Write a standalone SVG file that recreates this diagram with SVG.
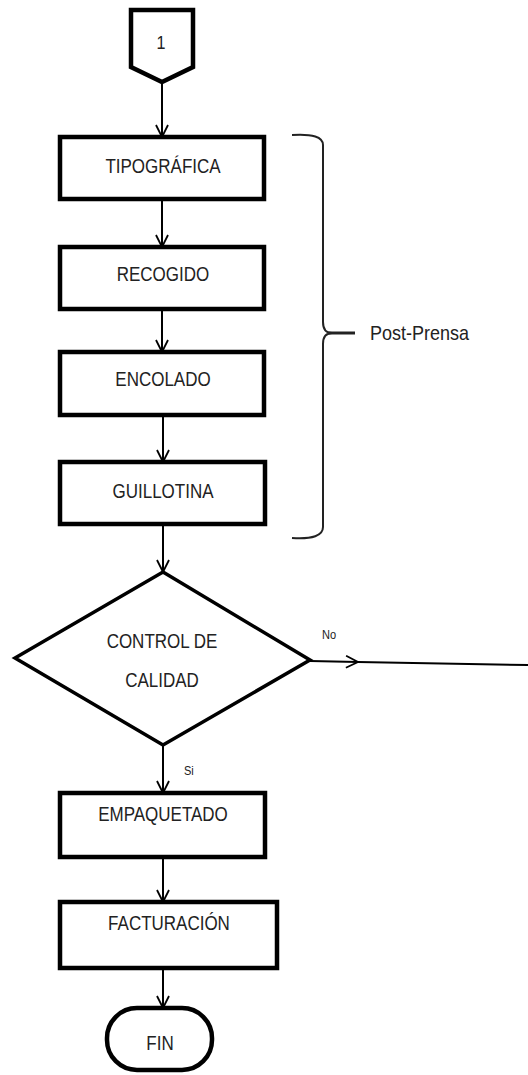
<svg xmlns="http://www.w3.org/2000/svg" width="528" height="1075" viewBox="0 0 528 1075">
  <defs>
    <style>
      .box { fill: #fff; stroke: #000; stroke-width: 4.5; stroke-linejoin: miter; }
      .dia { fill: #fff; stroke: #000; stroke-width: 3.5; stroke-linejoin: miter; }
      .conn { fill: none; stroke: #000; stroke-width: 2; }
      .brace { fill: none; stroke: #222; stroke-width: 2; }
      .lbl { font-family: "Liberation Sans", Arial, sans-serif; font-size: 20px; fill: #222; text-anchor: middle; }
      .small { font-family: "Liberation Sans", Arial, sans-serif; font-size: 13px; fill: #222; }
    </style>
    <marker id="arr" viewBox="0 0 14 14" refX="13" refY="7" markerWidth="14" markerHeight="14" markerUnits="userSpaceOnUse" orient="auto">
      <path d="M1,1 L13,7 L1,13" fill="none" stroke="#000" stroke-width="1.8"/>
    </marker>
  </defs>

  <!-- connectors -->
  <g id="connectors">
    <path class="conn" d="M162,82 L162,137" marker-end="url(#arr)"/>
    <path class="conn" d="M162,199 L162,247" marker-end="url(#arr)"/>
    <path class="conn" d="M162,309 L162,352" marker-end="url(#arr)"/>
    <path class="conn" d="M163,415 L163,462" marker-end="url(#arr)"/>
    <path class="conn" d="M163,524 L163,572" marker-end="url(#arr)"/>
    <path class="conn" d="M163,745 L163,793" marker-end="url(#arr)"/>
    <path class="conn" d="M163,857 L163,902" marker-end="url(#arr)"/>
    <path class="conn" d="M163,968 L163,1008" marker-end="url(#arr)"/>
    <polyline class="conn" points="310,661 358,662 528,665" marker-mid="url(#arr)"/>
    <text class="small" transform="translate(322,639) scale(0.85,1)">No</text>
    <text class="small" transform="translate(184,775) scale(0.85,1)">Si</text>
  </g>

  <!-- start connector 1 -->
  <g id="start">
    <polygon class="box" points="131,10 193,10 193,67 162,82 131,67"/>
    <text class="lbl" transform="translate(161,49) scale(0.85,1)" style="font-size:19px">1</text>
  </g>

  <g id="tipografica">
    <rect class="box" x="60" y="137" width="204" height="62"/>
    <text class="lbl" transform="translate(163,173) scale(0.85,1)">TIPOGRÁFICA</text>
  </g>

  <g id="recogido">
    <rect class="box" x="60" y="247" width="204" height="62"/>
    <text class="lbl" transform="translate(163,281) scale(0.85,1)">RECOGIDO</text>
  </g>

  <g id="encolado">
    <rect class="box" x="60" y="352" width="204" height="63"/>
    <text class="lbl" transform="translate(163,386) scale(0.85,1)">ENCOLADO</text>
  </g>

  <g id="guillotina">
    <rect class="box" x="60" y="462" width="205" height="62"/>
    <text class="lbl" transform="translate(163,498) scale(0.85,1)">GUILLOTINA</text>
  </g>

  <!-- Post-Prensa brace -->
  <g id="post-prensa">
    <path class="brace" d="M292,135 Q323,133 323,145 L323,322 Q323,333 332,333 Q323,333 323,344 L323,527 Q323,540 292,538"/>
    <path d="M328,333 L355,333" stroke="#222" stroke-width="3" fill="none"/>
    <text class="lbl" transform="translate(370,340) scale(0.9,1)" style="text-anchor:start">Post-Prensa</text>
  </g>

  <g id="control-calidad">
    <polygon class="dia" points="163,572 310,660 163,745 15,658"/>
    <text class="lbl" transform="translate(162,648) scale(0.85,1)">CONTROL DE</text>
    <text class="lbl" transform="translate(162,687) scale(0.85,1)">CALIDAD</text>
  </g>

  <g id="empaquetado">
    <rect class="box" x="60" y="793" width="205" height="64"/>
    <text class="lbl" transform="translate(163,821) scale(0.85,1)">EMPAQUETADO</text>
  </g>

  <g id="facturacion">
    <rect class="box" x="60" y="902" width="217" height="66"/>
    <text class="lbl" transform="translate(169,930) scale(0.85,1)">FACTURACIÓN</text>
  </g>

  <g id="fin">
    <rect class="box" x="107" y="1008" width="105" height="62" rx="30" ry="30"/>
    <text class="lbl" transform="translate(160,1050) scale(0.85,1)">FIN</text>
  </g>
</svg>
